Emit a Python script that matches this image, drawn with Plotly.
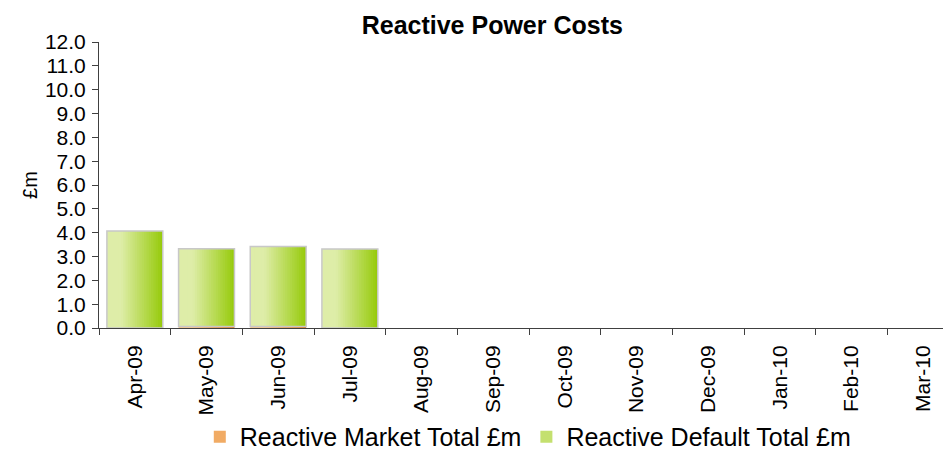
import plotly.graph_objects as go

months = ["Apr-09", "May-09", "Jun-09", "Jul-09", "Aug-09", "Sep-09",
          "Oct-09", "Nov-09", "Dec-09", "Jan-10", "Feb-10", "Mar-10"]
market_total = [0.0, 0.06, 0.06, 0.0, None, None, None, None, None, None, None, None]
default_total = [4.07, 3.26, 3.36, 3.31, None, None, None, None, None, None, None, None]
y_ticks = [float(v) for v in range(0, 13)]

FONT = "Liberation Sans, Arial, sans-serif"
BAR_W = 0.78
N = 24
AXIS_COLOR = "#404040"

def lerp(c1, c2, t):
    return "rgb(%d,%d,%d)" % tuple(round(a + (b - a) * t) for a, b in zip(c1, c2))

def shade(t):
    # light at left, saturated at right
    return max(0.0, (t - 0.25) / 0.75)

green_l, green_r = (222, 237, 168), (150, 202, 10)
orange_l, orange_r = (250, 200, 140), (225, 120, 30)

base_default = [None if d is None else (m or 0) for m, d in zip(market_total, default_total)]

fig = go.Figure()
w = BAR_W / N
for i in range(N):
    t = shade((i + 0.5) / N)
    ww = w if i == N - 1 else w * 1.8
    fig.add_bar(x=months, y=market_total, width=ww, offset=-BAR_W / 2 + i * w,
                marker=dict(color=lerp(orange_l, orange_r, t), line=dict(width=0)),
                name="Reactive Market Total £m", legendgroup="m",
                showlegend=(i == N // 2))
for i in range(N):
    t = shade((i + 0.5) / N)
    ww = w if i == N - 1 else w * 1.8
    fig.add_bar(x=months, y=default_total, base=base_default, width=ww,
                offset=-BAR_W / 2 + i * w,
                marker=dict(color=lerp(green_l, green_r, t), line=dict(width=0)),
                name="Reactive Default Total £m", legendgroup="d",
                showlegend=(i == N // 2))
# outline
fig.add_bar(x=months, y=default_total, base=base_default, width=BAR_W, offset=-BAR_W / 2,
            marker=dict(color="rgba(0,0,0,0)", line=dict(color="#c8c8c8", width=1.5)),
            showlegend=False, hoverinfo="skip")

fig.update_layout(
    width=959, height=469,
    barmode="overlay",
    paper_bgcolor="white", plot_bgcolor="white",
    margin=dict(l=91, r=0, t=34, b=149, autoexpand=False),
    font=dict(family=FONT, size=20, color="black"),
    title=dict(text="<b>Reactive Power Costs</b>", xref="container", x=0.505,
               xanchor="center", yref="container", y=0.964, yanchor="middle",
               font=dict(size=25, family=FONT)),
    showlegend=True,
    legend=dict(orientation="h", x=0.494, xanchor="center", y=-0.381, yanchor="middle",
                font=dict(size=25, family=FONT), tracegroupgap=0),
    xaxis=dict(type="category", categoryorder="array", categoryarray=months,
               range=[-0.5, 11.61], tickangle=-90, tickson="boundaries",
               ticks="outside", ticklen=6, tickcolor=AXIS_COLOR, automargin=False,
               ticklabelstandoff=8,
               showline=True, linecolor=AXIS_COLOR, linewidth=1,
               showgrid=False, tickfont=dict(size=21), zeroline=False),
    yaxis=dict(range=[0, 12], tickvals=y_ticks, tickformat=".1f", automargin=False,
               ticks="outside", ticklen=6, tickcolor=AXIS_COLOR, ticklabelstandoff=2,
               showline=True, linecolor=AXIS_COLOR, linewidth=1,
               showgrid=False, zeroline=False, tickfont=dict(size=21)),
    annotations=[dict(text="£m", textangle=-90, xref="paper", yref="paper",
                      x=-0.0795, y=0.5, xanchor="center", yanchor="middle",
                      showarrow=False, font=dict(size=20))],
)

fig.write_html("out.html")
